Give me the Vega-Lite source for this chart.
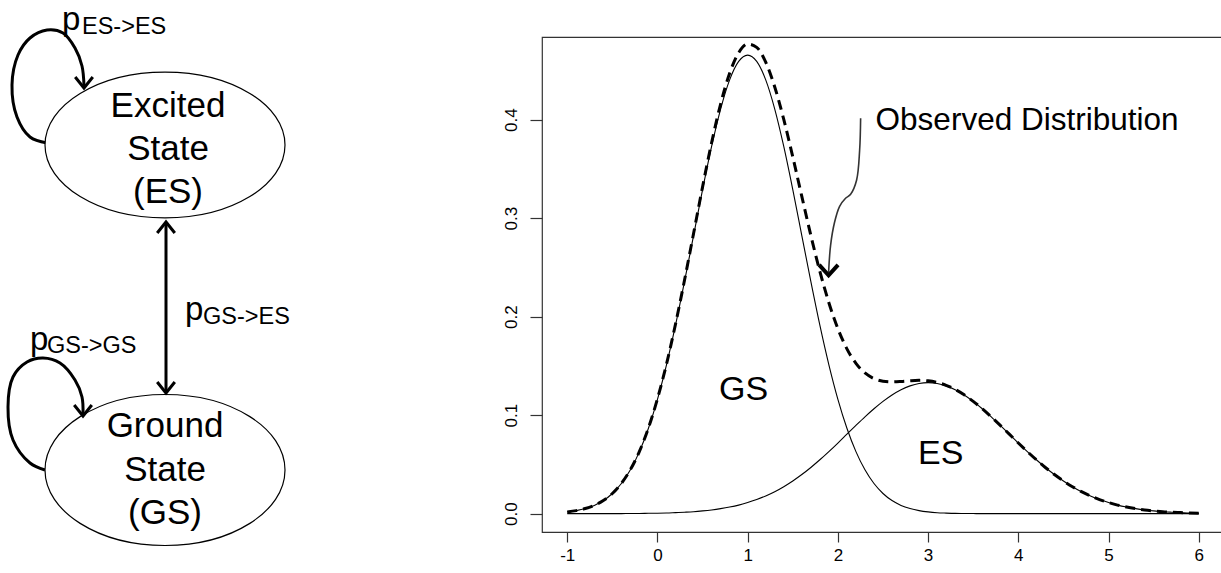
{
  "$schema": "https://vega.github.io/schema/vega-lite/v6.json",
  "width": 682,
  "height": 495,
  "autosize": {"type": "none"},
  "padding": {"left": 542, "top": 37, "right": 0, "bottom": 41},
  "background": "white",
  "config": {"view": {"stroke": "#333", "strokeWidth": 1.2}, "font": "Liberation Sans"},
  "datasets": {
    "curves": [
      {"x": -1.0, "gs": 0.0018, "es": 0.0000, "obs": 0.0018},
      {"x": -0.9, "gs": 0.0031, "es": 0.0000, "obs": 0.0031},
      {"x": -0.8, "gs": 0.0052, "es": 0.0000, "obs": 0.0052},
      {"x": -0.7, "gs": 0.0084, "es": 0.0000, "obs": 0.0084},
      {"x": -0.6, "gs": 0.0133, "es": 0.0000, "obs": 0.0133},
      {"x": -0.5, "gs": 0.0205, "es": 0.0001, "obs": 0.0205},
      {"x": -0.4, "gs": 0.0306, "es": 0.0001, "obs": 0.0307},
      {"x": -0.3, "gs": 0.0445, "es": 0.0002, "obs": 0.0447},
      {"x": -0.2, "gs": 0.0630, "es": 0.0002, "obs": 0.0632},
      {"x": -0.1, "gs": 0.0867, "es": 0.0004, "obs": 0.0870},
      {"x": 0.0, "gs": 0.1161, "es": 0.0005, "obs": 0.1166},
      {"x": 0.1, "gs": 0.1511, "es": 0.0007, "obs": 0.1518},
      {"x": 0.2, "gs": 0.1913, "es": 0.0011, "obs": 0.1924},
      {"x": 0.3, "gs": 0.2357, "es": 0.0015, "obs": 0.2371},
      {"x": 0.4, "gs": 0.2823, "es": 0.0020, "obs": 0.2843},
      {"x": 0.5, "gs": 0.3289, "es": 0.0028, "obs": 0.3317},
      {"x": 0.6, "gs": 0.3727, "es": 0.0038, "obs": 0.3765},
      {"x": 0.7, "gs": 0.4107, "es": 0.0051, "obs": 0.4158},
      {"x": 0.8, "gs": 0.4403, "es": 0.0067, "obs": 0.4470},
      {"x": 0.9, "gs": 0.4590, "es": 0.0087, "obs": 0.4678},
      {"x": 1.0, "gs": 0.4654, "es": 0.0113, "obs": 0.4767},
      {"x": 1.1, "gs": 0.4590, "es": 0.0143, "obs": 0.4733},
      {"x": 1.2, "gs": 0.4403, "es": 0.0180, "obs": 0.4583},
      {"x": 1.3, "gs": 0.4107, "es": 0.0223, "obs": 0.4331},
      {"x": 1.4, "gs": 0.3727, "es": 0.0274, "obs": 0.4001},
      {"x": 1.5, "gs": 0.3289, "es": 0.0332, "obs": 0.3621},
      {"x": 1.6, "gs": 0.2823, "es": 0.0397, "obs": 0.3220},
      {"x": 1.7, "gs": 0.2357, "es": 0.0469, "obs": 0.2825},
      {"x": 1.8, "gs": 0.1913, "es": 0.0547, "obs": 0.2460},
      {"x": 1.9, "gs": 0.1511, "es": 0.0630, "obs": 0.2141},
      {"x": 2.0, "gs": 0.1161, "es": 0.0717, "obs": 0.1878},
      {"x": 2.1, "gs": 0.0867, "es": 0.0807, "obs": 0.1673},
      {"x": 2.2, "gs": 0.0630, "es": 0.0896, "obs": 0.1526},
      {"x": 2.3, "gs": 0.0445, "es": 0.0983, "obs": 0.1428},
      {"x": 2.4, "gs": 0.0306, "es": 0.1065, "obs": 0.1371},
      {"x": 2.5, "gs": 0.0205, "es": 0.1140, "obs": 0.1344},
      {"x": 2.6, "gs": 0.0133, "es": 0.1205, "obs": 0.1338},
      {"x": 2.7, "gs": 0.0084, "es": 0.1258, "obs": 0.1342},
      {"x": 2.8, "gs": 0.0052, "es": 0.1297, "obs": 0.1349},
      {"x": 2.9, "gs": 0.0031, "es": 0.1322, "obs": 0.1353},
      {"x": 3.0, "gs": 0.0018, "es": 0.1330, "obs": 0.1348},
      {"x": 3.1, "gs": 0.0010, "es": 0.1322, "obs": 0.1332},
      {"x": 3.2, "gs": 0.0006, "es": 0.1297, "obs": 0.1303},
      {"x": 3.3, "gs": 0.0003, "es": 0.1258, "obs": 0.1261},
      {"x": 3.4, "gs": 0.0002, "es": 0.1205, "obs": 0.1206},
      {"x": 3.5, "gs": 0.0001, "es": 0.1140, "obs": 0.1140},
      {"x": 3.6, "gs": 0.0000, "es": 0.1065, "obs": 0.1065},
      {"x": 3.7, "gs": 0.0000, "es": 0.0983, "obs": 0.0983},
      {"x": 3.8, "gs": 0.0000, "es": 0.0896, "obs": 0.0896},
      {"x": 3.9, "gs": 0.0000, "es": 0.0807, "obs": 0.0807},
      {"x": 4.0, "gs": 0.0000, "es": 0.0717, "obs": 0.0717},
      {"x": 4.1, "gs": 0.0000, "es": 0.0630, "obs": 0.0630},
      {"x": 4.2, "gs": 0.0000, "es": 0.0547, "obs": 0.0547},
      {"x": 4.3, "gs": 0.0000, "es": 0.0469, "obs": 0.0469},
      {"x": 4.4, "gs": 0.0000, "es": 0.0397, "obs": 0.0397},
      {"x": 4.5, "gs": 0.0000, "es": 0.0332, "obs": 0.0332},
      {"x": 4.6, "gs": 0.0000, "es": 0.0274, "obs": 0.0274},
      {"x": 4.7, "gs": 0.0000, "es": 0.0223, "obs": 0.0223},
      {"x": 4.8, "gs": 0.0000, "es": 0.0180, "obs": 0.0180},
      {"x": 4.9, "gs": 0.0000, "es": 0.0143, "obs": 0.0143},
      {"x": 5.0, "gs": 0.0000, "es": 0.0113, "obs": 0.0113},
      {"x": 5.1, "gs": 0.0000, "es": 0.0087, "obs": 0.0087},
      {"x": 5.2, "gs": 0.0000, "es": 0.0067, "obs": 0.0067},
      {"x": 5.3, "gs": 0.0000, "es": 0.0051, "obs": 0.0051},
      {"x": 5.4, "gs": 0.0000, "es": 0.0038, "obs": 0.0038},
      {"x": 5.5, "gs": 0.0000, "es": 0.0028, "obs": 0.0028},
      {"x": 5.6, "gs": 0.0000, "es": 0.0020, "obs": 0.0020},
      {"x": 5.7, "gs": 0.0000, "es": 0.0015, "obs": 0.0015},
      {"x": 5.8, "gs": 0.0000, "es": 0.0011, "obs": 0.0011},
      {"x": 5.9, "gs": 0.0000, "es": 0.0007, "obs": 0.0007},
      {"x": 6.0, "gs": 0.0000, "es": 0.0005, "obs": 0.0005}
    ],
    "pointer": [
      {"i": 0, "x": 2.252, "y": 0.4013},
      {"i": 1, "x": 2.241, "y": 0.3688},
      {"i": 2, "x": 2.207, "y": 0.3384},
      {"i": 3, "x": 2.141, "y": 0.3242},
      {"i": 4, "x": 2.085, "y": 0.3201},
      {"i": 5, "x": 2.019, "y": 0.3120},
      {"i": 6, "x": 1.963, "y": 0.2958},
      {"i": 7, "x": 1.919, "y": 0.2724},
      {"i": 8, "x": 1.897, "y": 0.2450}
    ],
    "pointerHead": [{"x": 1.897, "y": 0.2419}],
    "chartLabels": [
      {"x": 0.955, "y": 0.115, "t": "GS"},
      {"x": 3.139, "y": 0.050, "t": "ES"}
    ],
    "obsLabel": [{"x": 2.418, "y": 0.389, "t": "Observed Distribution"}],
    "paths": [
      {"id": "es", "i": 0, "px": 47, "py": 143},
      {"id": "es", "i": 1, "px": 30, "py": 137},
      {"id": "es", "i": 2, "px": 17, "py": 117},
      {"id": "es", "i": 3, "px": 12, "py": 85},
      {"id": "es", "i": 4, "px": 18, "py": 55},
      {"id": "es", "i": 5, "px": 30, "py": 38},
      {"id": "es", "i": 6, "px": 47, "py": 30},
      {"id": "es", "i": 7, "px": 63, "py": 33},
      {"id": "es", "i": 8, "px": 75, "py": 48},
      {"id": "es", "i": 9, "px": 82, "py": 66},
      {"id": "es", "i": 10, "px": 84, "py": 86},
      {"id": "gs", "i": 0, "px": 45, "py": 470},
      {"id": "gs", "i": 1, "px": 30, "py": 463},
      {"id": "gs", "i": 2, "px": 13, "py": 440},
      {"id": "gs", "i": 3, "px": 8, "py": 407},
      {"id": "gs", "i": 4, "px": 13, "py": 377},
      {"id": "gs", "i": 5, "px": 27, "py": 362},
      {"id": "gs", "i": 6, "px": 43, "py": 358},
      {"id": "gs", "i": 7, "px": 60, "py": 363},
      {"id": "gs", "i": 8, "px": 75, "py": 380},
      {"id": "gs", "i": 9, "px": 82, "py": 397},
      {"id": "gs", "i": 10, "px": 83, "py": 414},
      {"id": "ab", "i": 0, "px": 166, "py": 224},
      {"id": "ab", "i": 1, "px": 166, "py": 391}
    ],
    "esNode": [{"px": 165, "py": 145}],
    "gsNode": [{"px": 165, "py": 470}],
    "headsDown": [{"px": 84, "py": 88}, {"px": 83, "py": 416}, {"px": 166, "py": 393}],
    "headsUp": [{"px": 166, "py": 222}],
    "nodeText": [
      {"px": 168, "py": 117, "t": "Excited"},
      {"px": 168, "py": 160, "t": "State"},
      {"px": 168, "py": 203, "t": "(ES)"},
      {"px": 165, "py": 437, "t": "Ground"},
      {"px": 165, "py": 481, "t": "State"},
      {"px": 165, "py": 524, "t": "(GS)"}
    ],
    "pText": [
      {"px": 62, "py": 30, "t": "p"},
      {"px": 30, "py": 350, "t": "p"},
      {"px": 185, "py": 320, "t": "p"}
    ],
    "subText": [
      {"px": 82, "py": 34, "t": "ES->ES"},
      {"px": 47, "py": 353, "t": "GS->GS"},
      {"px": 203, "py": 324, "t": "GS->ES"}
    ]
  },
  "layer": [
    {
      "layer": [
        {
          "data": {"name": "curves"},
          "transform": [{"fold": ["gs", "es"], "as": ["series", "y"]}],
          "mark": {"type": "line", "color": "black", "strokeWidth": 1.1, "interpolate": "monotone"},
          "encoding": {
            "x": {"field": "x", "type": "quantitative", "title": null,
              "scale": {"domain": [-1.28, 6.28], "nice": false, "zero": false},
              "axis": {"values": [-1, 0, 1, 2, 3, 4, 5, 6], "format": "d", "title": null, "domain": false, "grid": false,
                "tickSize": 10, "tickColor": "#333", "tickWidth": 1.2, "labelFontSize": 17, "labelColor": "black",
                "labelFont": "Liberation Sans", "labelPadding": 5, "labelExpr": "replace(datum.label, '\u2212', '-')"}},
            "y": {"field": "y", "type": "quantitative", "title": null,
              "scale": {"domain": [-0.0186, 0.4838], "nice": false, "zero": false},
              "axis": {"values": [0, 0.1, 0.2, 0.3, 0.4], "format": ".1f", "title": null, "domain": false, "grid": false,
                "tickSize": 12, "tickColor": "#333", "tickWidth": 1.2, "labelFontSize": 17, "labelColor": "black",
                "labelFont": "Liberation Sans", "labelAngle": -90, "labelAlign": "center", "labelBaseline": "bottom", "labelPadding": 10}},
            "detail": {"field": "series"}
          }
        },
        {
          "data": {"name": "curves"},
          "mark": {"type": "line", "color": "black", "strokeWidth": 3, "strokeDash": [10, 6], "interpolate": "monotone"},
          "encoding": {
            "x": {"field": "x", "type": "quantitative", "title": null},
            "y": {"field": "obs", "type": "quantitative", "title": null}
          }
        },
        {
          "data": {"name": "pointer"},
          "mark": {"type": "line", "color": "#333", "strokeWidth": 1.6, "interpolate": "catmull-rom"},
          "encoding": {
            "x": {"field": "x", "type": "quantitative", "title": null},
            "y": {"field": "y", "type": "quantitative", "title": null},
            "order": {"field": "i"}
          }
        },
        {
          "data": {"name": "pointerHead"},
          "mark": {"type": "point", "shape": "M-0.9,-1L0,0L0.9,-1", "size": 440, "filled": false, "stroke": "black", "strokeWidth": 4, "opacity": 1},
          "encoding": {
            "x": {"field": "x", "type": "quantitative", "title": null},
            "y": {"field": "y", "type": "quantitative", "title": null}
          }
        },
        {
          "data": {"name": "chartLabels"},
          "mark": {"type": "text", "fontSize": 34, "align": "center", "baseline": "alphabetic", "font": "Liberation Sans", "color": "black"},
          "encoding": {
            "x": {"field": "x", "type": "quantitative", "title": null},
            "y": {"field": "y", "type": "quantitative", "title": null},
            "text": {"field": "t"}
          }
        },
        {
          "data": {"name": "obsLabel"},
          "mark": {"type": "text", "fontSize": 31.5, "align": "left", "baseline": "alphabetic", "font": "Liberation Sans", "color": "black"},
          "encoding": {
            "x": {"field": "x", "type": "quantitative", "title": null},
            "y": {"field": "y", "type": "quantitative", "title": null},
            "text": {"field": "t"}
          }
        }
      ]
    },
    {
      "layer": [
        {
          "data": {"name": "paths"},
          "mark": {"type": "line", "color": "black", "strokeWidth": 3, "interpolate": "catmull-rom"},
          "encoding": {
            "x": {"field": "px", "type": "quantitative", "axis": null, "scale": {"domain": [0, 1221], "range": [-542, 679], "nice": false, "zero": false}},
            "y": {"field": "py", "type": "quantitative", "axis": null, "scale": {"domain": [0, 573], "range": [-37, 536], "nice": false, "zero": false}},
            "detail": {"field": "id"},
            "order": {"field": "i"}
          }
        },
        {
          "data": {"name": "esNode"},
          "mark": {"type": "point", "shape": "M1,0C1,0.3358,0.5523,0.608,0,0.608C-0.5523,0.608,-1,0.3358,-1,0C-1,-0.3358,-0.5523,-0.608,0,-0.608C0.5523,-0.608,1,-0.3358,1,0Z", "size": 57600, "filled": true, "fill": "white", "stroke": "black", "strokeWidth": 1.2, "opacity": 1},
          "encoding": {
            "x": {"field": "px", "type": "quantitative", "axis": null},
            "y": {"field": "py", "type": "quantitative", "axis": null}
          }
        },
        {
          "data": {"name": "gsNode"},
          "mark": {"type": "point", "shape": "M1,0C1,0.3474,0.5523,0.629,0,0.629C-0.5523,0.629,-1,0.3474,-1,0C-1,-0.3474,-0.5523,-0.629,0,-0.629C0.5523,-0.629,1,-0.3474,1,0Z", "size": 57600, "filled": true, "fill": "white", "stroke": "black", "strokeWidth": 1.2, "opacity": 1},
          "encoding": {
            "x": {"field": "px", "type": "quantitative", "axis": null},
            "y": {"field": "py", "type": "quantitative", "axis": null}
          }
        },
        {
          "data": {"name": "headsDown"},
          "mark": {"type": "point", "shape": "M-0.8,-1L0,0L0.8,-1", "size": 484, "filled": false, "stroke": "black", "strokeWidth": 3, "opacity": 1},
          "encoding": {
            "x": {"field": "px", "type": "quantitative", "axis": null},
            "y": {"field": "py", "type": "quantitative", "axis": null}
          }
        },
        {
          "data": {"name": "headsUp"},
          "mark": {"type": "point", "shape": "M-0.8,1L0,0L0.8,1", "size": 484, "filled": false, "stroke": "black", "strokeWidth": 3, "opacity": 1},
          "encoding": {
            "x": {"field": "px", "type": "quantitative", "axis": null},
            "y": {"field": "py", "type": "quantitative", "axis": null}
          }
        },
        {
          "data": {"name": "nodeText"},
          "mark": {"type": "text", "fontSize": 35, "align": "center", "baseline": "alphabetic", "font": "Liberation Sans", "color": "black"},
          "encoding": {
            "x": {"field": "px", "type": "quantitative", "axis": null},
            "y": {"field": "py", "type": "quantitative", "axis": null},
            "text": {"field": "t"}
          }
        },
        {
          "data": {"name": "pText"},
          "mark": {"type": "text", "fontSize": 33, "align": "left", "baseline": "alphabetic", "font": "Liberation Sans", "color": "black"},
          "encoding": {
            "x": {"field": "px", "type": "quantitative", "axis": null},
            "y": {"field": "py", "type": "quantitative", "axis": null},
            "text": {"field": "t"}
          }
        },
        {
          "data": {"name": "subText"},
          "mark": {"type": "text", "fontSize": 23.5, "align": "left", "baseline": "alphabetic", "font": "Liberation Sans", "color": "black"},
          "encoding": {
            "x": {"field": "px", "type": "quantitative", "axis": null},
            "y": {"field": "py", "type": "quantitative", "axis": null},
            "text": {"field": "t"}
          }
        }
      ]
    }
  ],
  "resolve": {"scale": {"x": "independent", "y": "independent"}, "axis": {"x": "independent", "y": "independent"}}
}
